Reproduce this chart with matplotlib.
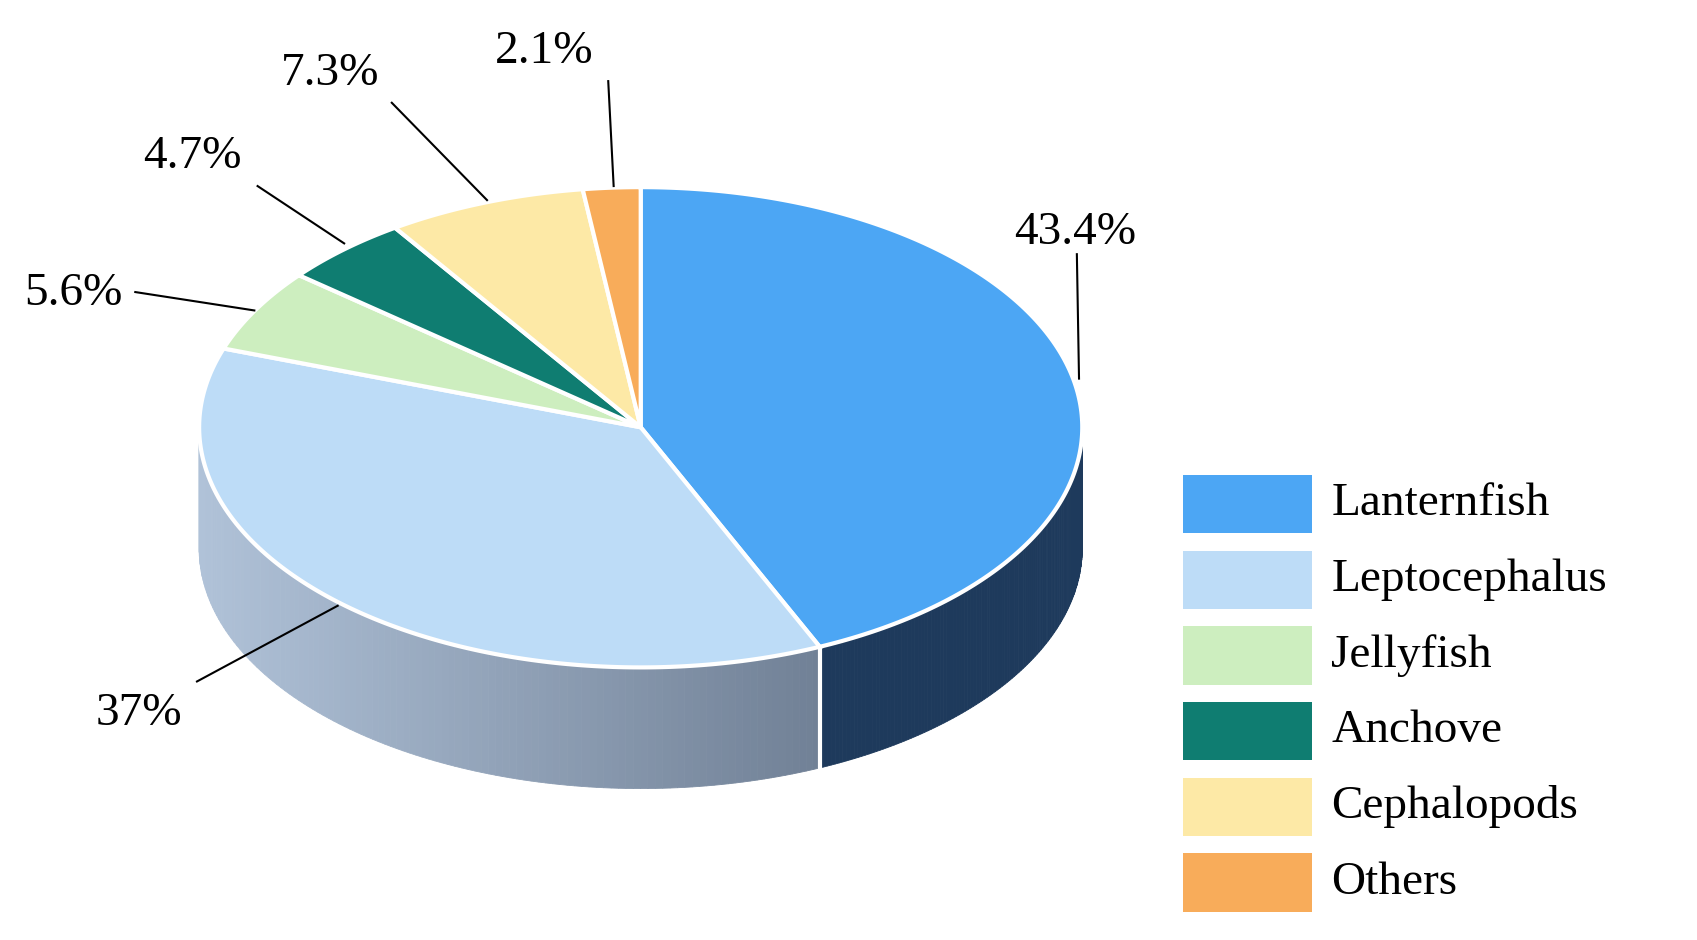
import numpy as np
import matplotlib.pyplot as plt
from matplotlib.patches import Polygon, Rectangle
from matplotlib.colors import to_rgb

categories = ["Lanternfish", "Leptocephalus", "Jellyfish", "Anchove", "Cephalopods", "Others"]
values = [43.4, 37.0, 5.6, 4.7, 7.3, 2.1]
labels = ["43.4%", "37%", "5.6%", "4.7%", "7.3%", "2.1%"]
colors = ["#4ca6f4", "#bddcf7", "#cdeebf", "#0f7d71", "#fde9a6", "#f8ac5a"]
side_left = {0: "#1e3a5c", 1: "#b0c2d8"}
side_right = {0: "#1e3a5c", 1: "#56657a"}

# geometry in a 1568 x 869 canvas (y down)
cx, cy, rx, ry, depth = 592, 395, 408, 222, 112

def pt(t, dy=0):
    return cx + rx * np.cos(np.radians(t)), cy - ry * np.sin(np.radians(t)) + dy

fig = plt.figure(figsize=(16.97, 9.40), dpi=100)
ax = fig.add_axes([0, 0, 1, 1])
ax.set_xlim(0, 1568)
ax.set_ylim(869, 0)
ax.axis("off")

fr = np.array(values) / sum(values) * 360
ends = 90 - np.cumsum(fr)
starts = ends + fr

# side walls (only front half, angles in [-180, 0])
for i, (s, e) in enumerate(zip(starts, ends)):
    lo, hi = max(e, -180), min(s, 0)
    if lo >= hi:
        continue
    ts = np.linspace(hi, lo, 120)
    c1, c2 = np.array(to_rgb(side_left[i])), np.array(to_rgb(side_right[i]))
    for a, b in zip(ts[:-1], ts[1:]):
        xa, ya = pt(a); xb, yb = pt(b)
        f = (0.5 * (xa + xb) - (cx - rx)) / (2 * rx)
        col = c1 * (1 - f) + c2 * f
        ax.add_patch(Polygon([(xa, ya), (xb, yb), (xb, yb + depth), (xa, ya + depth)],
                             closed=True, facecolor=col, edgecolor=col, lw=0.6))
# white seam on side
for e in ends:
    if -180 < e < 0:
        x, y = pt(e)
        ax.plot([x, x], [y, y + depth], color="white", lw=3)

# top wedges
for i, (s, e) in enumerate(zip(starts, ends)):
    ts = np.linspace(s, e, 200)
    poly = [(cx, cy)] + [pt(t) for t in ts]
    ax.add_patch(Polygon(poly, closed=True, facecolor=colors[i], edgecolor="white", lw=3))

# labels with leader lines
label_pos = [(993, 215), (128, 660), (68, 272), (178, 145), (305, 68), (503, 48)]
lines = [((995, 235), (997, 350)), ((182, 630), (312, 560)), ((125, 270), (235, 287)),
         ((238, 172), (318, 225)), ((362, 95), (450, 185)), ((562, 75), (567, 172))]
for lab, (x, y), (p0, p1) in zip(labels, label_pos, lines):
    ax.plot([p0[0], p1[0]], [p0[1], p1[1]], color="black", lw=1.5)
    ax.text(x, y, lab, fontsize=34, family="Liberation Serif", ha="center", va="center")

# legend
for i, cat in enumerate(categories):
    yc = 466 + 70 * i
    ax.add_patch(Rectangle((1093, yc - 27), 119, 54, facecolor=colors[i], edgecolor="none"))
    ax.text(1230, yc, cat, fontsize=34, family="Liberation Serif", ha="left", va="center")

fig.savefig("out.png", dpi=100)
